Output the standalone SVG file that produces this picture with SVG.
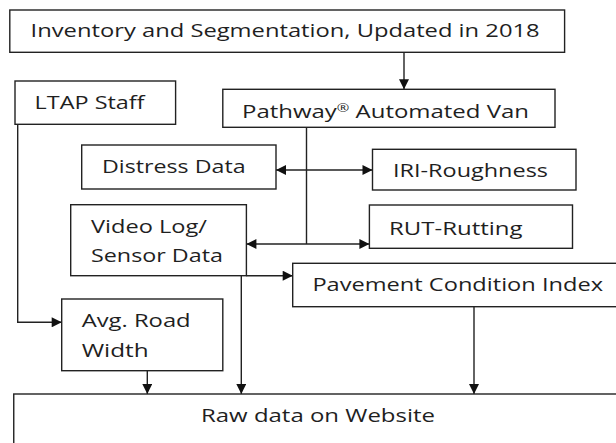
<svg xmlns="http://www.w3.org/2000/svg" width="616" height="443" viewBox="0 0 616 443">
<style>
.box{fill:#fff;stroke:#222;stroke-width:1.4}
.t{font-family:"Open Sans","Noto Sans","Liberation Sans",sans-serif;font-size:17.5px;fill:#1f1f1f}
.c{fill:none;stroke:#222;stroke-width:1.4}
</style>
<defs>
<marker id="ah" viewBox="0 0 10 10" refX="10" refY="5" markerWidth="11" markerHeight="10" markerUnits="userSpaceOnUse" orient="auto-start-reverse">
<path d="M0,0 L10,5 L0,10 Z" fill="#111"/>
</marker>
</defs>
<rect width="616" height="443" fill="#fff"/>
<g id="connectors">
<path class="c" d="M404,52.3 V89.3" marker-end="url(#ah)"/>
<path class="c" d="M306.5,127.3 V244"/>
<path class="c" d="M276,170 H372.5" marker-start="url(#ah)" marker-end="url(#ah)"/>
<path class="c" d="M246.4,244 H369.4" marker-start="url(#ah)" marker-end="url(#ah)"/>
<path class="c" d="M17.7,124.3 V322.3 H61.7" marker-end="url(#ah)"/>
<path class="c" d="M246.4,275.7 H292.7" marker-end="url(#ah)"/>
<path class="c" d="M147.3,370.7 V394" marker-end="url(#ah)"/>
<path class="c" d="M241.3,275.7 V394" marker-end="url(#ah)"/>
<path class="c" d="M474,306.7 V394" marker-end="url(#ah)"/>
</g>
<g id="inventory">
<rect class="box" x="9.8" y="10" width="554.8" height="42.3"/>
<text class="t" x="30.6" y="36.7" textLength="509" lengthAdjust="spacingAndGlyphs">Inventory and Segmentation, Updated in 2018</text>
</g>
<g id="ltap">
<rect class="box" x="15" y="81" width="160.6" height="43.3"/>
<text class="t" x="34.6" y="109" textLength="110" lengthAdjust="spacingAndGlyphs">LTAP Staff</text>
</g>
<g id="pathway">
<rect class="box" x="222.8" y="89.3" width="332.2" height="38"/>
<text class="t" x="242" y="117.7" textLength="287" lengthAdjust="spacingAndGlyphs">Pathway<tspan font-size="11" dy="-6">®</tspan><tspan dy="6"> Automated Van</tspan></text>
</g>
<g id="distress">
<rect class="box" x="81.7" y="145" width="194.3" height="44"/>
<text class="t" x="102" y="172.7" textLength="143.6" lengthAdjust="spacingAndGlyphs">Distress Data</text>
</g>
<g id="iri">
<rect class="box" x="372.5" y="149.3" width="203.5" height="40.7"/>
<text class="t" x="393" y="176.7" textLength="155" lengthAdjust="spacingAndGlyphs">IRI-Roughness</text>
</g>
<g id="video">
<rect class="box" x="70.7" y="204.7" width="175.7" height="71"/>
<text class="t" x="91" y="233.3" textLength="116" lengthAdjust="spacingAndGlyphs">Video Log/</text>
<text class="t" x="91" y="261.7" textLength="132" lengthAdjust="spacingAndGlyphs">Sensor Data</text>
</g>
<g id="rut">
<rect class="box" x="369.4" y="205" width="203.1" height="43.3"/>
<text class="t" x="389" y="235" textLength="133.6" lengthAdjust="spacingAndGlyphs">RUT-Rutting</text>
</g>
<g id="pci">
<rect class="box" x="292.7" y="263.3" width="340" height="43.4"/>
<text class="t" x="312.4" y="290.7" textLength="290.6" lengthAdjust="spacingAndGlyphs">Pavement Condition Index</text>
</g>
<g id="avg">
<rect class="box" x="61.7" y="299" width="161.1" height="71.7"/>
<text class="t" x="81.7" y="326.7" textLength="109" lengthAdjust="spacingAndGlyphs">Avg. Road</text>
<text class="t" x="81.7" y="356.7" textLength="67" lengthAdjust="spacingAndGlyphs">Width</text>
</g>
<g id="raw">
<rect class="box" x="13.75" y="394" width="640" height="80"/>
<text class="t" x="201" y="421.7" textLength="234" lengthAdjust="spacingAndGlyphs">Raw data on Website</text>
</g>
</svg>
